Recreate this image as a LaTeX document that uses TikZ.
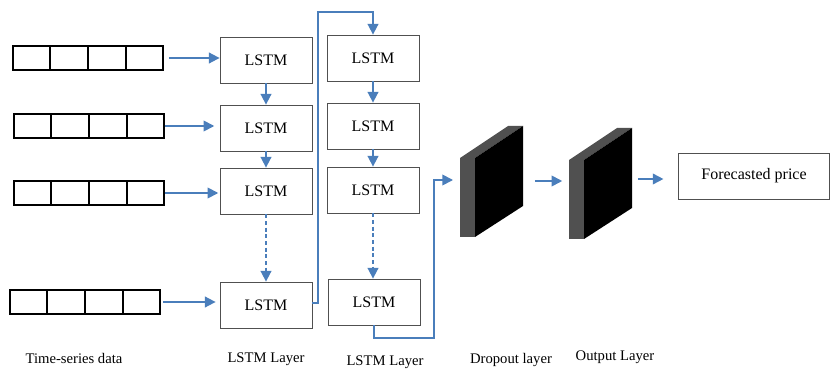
\documentclass[tikz,border=0pt]{standalone}
\usepackage{fontspec}
\setmainfont{Liberation Serif}
\usepackage{tikz}
\usetikzlibrary{arrows.meta,calc}
\definecolor{flow}{HTML}{4A7EBB}
\definecolor{boxline}{HTML}{505050}
\definecolor{slab}{HTML}{505050}
\tikzset{
  seqbox/.style={rectangle,draw=black,line width=1.3pt,fill=white,
    minimum width=112pt,minimum height=18pt,inner sep=0pt},
  lstmbox/.style={rectangle,draw=boxline,line width=0.6pt,fill=white,
    minimum width=69pt,minimum height=34.5pt,font=\fontsize{12}{14}\selectfont},
  outbox/.style={rectangle,draw=boxline,line width=0.6pt,fill=white,
    minimum width=113.25pt,minimum height=34.5pt,font=\fontsize{12}{14}\selectfont},
  slabspan/.style={rectangle,minimum width=47.25pt,minimum height=83.25pt,inner sep=0pt},
  flowarr/.style={-{Triangle[length=8pt,width=8pt]},line width=1.3pt,color=flow},
  dasharr/.style={flowarr,dash pattern=on 3pt off 2pt},
  layerlabel/.style={font=\fontsize{11}{13}\selectfont,text=black},
}
\newcommand{\layerslab}[2]{%
  \begin{scope}[shift={(#1,#2)}]
    \fill[slab] (0,0) rectangle (15,79);
    \fill[slab] (0,0) -- (15,0) -- (63,-32) -- (48,-32) -- cycle;
    \fill[black] (15,0) -- (63,-32) -- (63,48) -- (15,79) -- cycle;
  \end{scope}}

\begin{document}
\begin{tikzpicture}[x=0.75pt,y=-0.75pt]
  \useasboundingbox (0,0) rectangle (832,374);

  % input sequences
  \node[seqbox] (in1) at (88,58) {};
  \node[seqbox] (in2) at (89,126) {};
  \node[seqbox] (in3) at (89,193) {};
  \node[seqbox] (in4) at (85,302) {};
  \foreach \s in {in1,in2,in3,in4}
    \foreach \k in {1,2,3}
      \draw[line width=1.2pt] ($(\s.north west)!\k/4!(\s.north east)$) -- ($(\s.south west)!\k/4!(\s.south east)$);

  % first LSTM layer
  \node[lstmbox] (l1a) at (266,60) {LSTM};
  \node[lstmbox] (l1b) at (266,128) {LSTM};
  \node[lstmbox] (l1c) at (266,191) {LSTM};
  \node[lstmbox] (l1d) at (266,305) {LSTM};

  % second LSTM layer
  \node[lstmbox] (l2a) at (373,58) {LSTM};
  \node[lstmbox] (l2b) at (373,126) {LSTM};
  \node[lstmbox] (l2c) at (373,190) {LSTM};
  \node[lstmbox] (l2d) at (374,302) {LSTM};

  % dropout and output slabs
  \layerslab{460}{158}
  \layerslab{569}{160}
  \node[slabspan] (drop) at (491,181) {};
  \node[slabspan] (outl) at (600,183) {};

  \node[outbox] (fc) at (754,176) {Forecasted price};

  % connectors
  \draw[flowarr, shorten <=4pt] (in1.east) -- (in1.east -| l1a.west);
  \draw[flowarr] (in2.east) -- ([xshift=-4pt]in2.east -| l1b.west);
  \draw[flowarr] (in3.east) -- ([xshift=-1pt]in3.east -| l1c.west);
  \draw[flowarr, shorten <=2pt] (in4.east) -- ([xshift=-3pt]in4.east -| l1d.west);

  \draw[flowarr] (l1a) -- (l1b);
  \draw[flowarr] (l1b) -- (l1c);
  \draw[dasharr] (l1c) -- (l1d);

  \coordinate (turn1) at (318,12);
  \draw[flowarr] ([yshift=1.5pt]l1d.east) -| (turn1) -| (l2a.north);

  \draw[flowarr] (l2a) -- (l2b);
  \draw[flowarr] (l2b) -- (l2c);
  \draw[dasharr] (l2c.south) -- (l2c.south |- l2d.north);

  \coordinate (turn2) at (434,338);
  \coordinate (dropin) at (453,180);
  \draw[flowarr] (l2d.south) |- (turn2) |- (dropin);

  \draw[flowarr, shorten <=9pt, shorten >=4.5pt] (drop.east) -- (drop.east -| outl.west);
  \draw[flowarr, shorten <=4.5pt, shorten >=11pt] ([yshift=3pt]outl.east) -- ([yshift=3pt]outl.east -| fc.west);

  % layer captions
  \node[layerlabel] (capin) at (74,358) {Time-series data};
  \node[layerlabel] (cap1) at (266,359) {LSTM Layer};
  \node[layerlabel] (cap2) at (385,362) {LSTM Layer};
  \node[layerlabel] (capd) at (511,360) {Dropout layer};
  \node[layerlabel] (capo) at (615,357) {Output Layer};
\end{tikzpicture}
\end{document}
